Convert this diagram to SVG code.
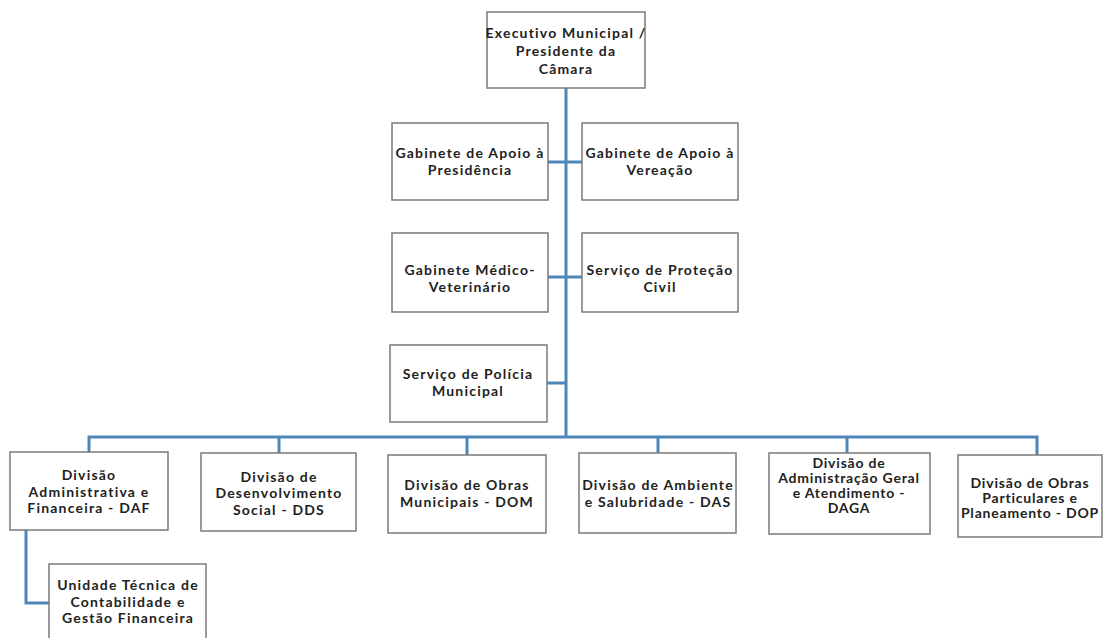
<svg xmlns="http://www.w3.org/2000/svg" width="1107" height="638" viewBox="0 0 1107 638">
<style>
.box{fill:#fff;stroke:#7a7a7a;stroke-width:1.5}
.t{font-family:Lato,"Noto Sans",sans-serif;font-weight:700;font-size:14px;letter-spacing:1.2px;fill:#222;text-anchor:middle}
.n{letter-spacing:0.8px}
.c{fill:none;stroke:#4f86b8;stroke-width:3}
</style>
<rect width="1107" height="638" fill="#fff"/>
<g id="connectors">
<path class="c" d="M566 88V437"/>
<path class="c" d="M548 162H582"/>
<path class="c" d="M548 277H582"/>
<path class="c" d="M547 383H566"/>
<path class="c" d="M89 452V437H1037V455"/>
<path class="c" d="M279 437V453"/>
<path class="c" d="M467 437V455"/>
<path class="c" d="M658 437V453"/>
<path class="c" d="M847 437V453"/>
<path class="c" d="M26 530V603H49"/>
</g>
<g id="n_exec"><rect class="box" x="487" y="12" width="158" height="76"/>
<text class="t" x="566" y="38">Executivo Municipal /</text><text class="t" x="566" y="56">Presidente da</text><text class="t" x="566" y="74">Câmara</text></g>
<g id="n_gap"><rect class="box" x="392" y="123" width="156" height="77"/>
<text class="t" x="470" y="158">Gabinete de Apoio à</text><text class="t" x="470" y="175">Presidência</text></g>
<g id="n_gav"><rect class="box" x="582" y="123" width="156" height="77"/>
<text class="t" x="660" y="158">Gabinete de Apoio à</text><text class="t" x="660" y="175">Vereação</text></g>
<g id="n_gmv"><rect class="box" x="392" y="233" width="156" height="79"/>
<text class="t" x="470" y="275">Gabinete Médico-</text><text class="t" x="470" y="292">Veterinário</text></g>
<g id="n_spc"><rect class="box" x="582" y="233" width="156" height="79"/>
<text class="t" x="660" y="275">Serviço de Proteção</text><text class="t" x="660" y="292">Civil</text></g>
<g id="n_spm"><rect class="box" x="390" y="345" width="157" height="77"/>
<text class="t" x="468" y="379">Serviço de Polícia</text><text class="t" x="468" y="396">Municipal</text></g>
<g id="n_daf"><rect class="box" x="10" y="452" width="158" height="78"/>
<text class="t" x="89" y="480">Divisão</text><text class="t" x="89" y="497">Administrativa e</text><text class="t" x="89" y="513">Financeira - DAF</text></g>
<g id="n_dds"><rect class="box" x="201" y="453" width="155" height="78"/>
<text class="t" x="279" y="482">Divisão de</text><text class="t" x="279" y="498">Desenvolvimento</text><text class="t" x="279" y="515">Social - DDS</text></g>
<g id="n_dom"><rect class="box" x="388" y="455" width="158" height="78"/>
<text class="t" x="467" y="490">Divisão de Obras</text><text class="t" x="467" y="507">Municipais - DOM</text></g>
<g id="n_das"><rect class="box" x="579" y="453" width="157" height="80"/>
<text class="t" x="658" y="490">Divisão de Ambiente</text><text class="t" x="658" y="507">e Salubridade - DAS</text></g>
<g id="n_daga"><rect class="box" x="769" y="453" width="161" height="81"/>
<text class="t n" x="849" y="468">Divisão de</text><text class="t n" x="849" y="483">Administração Geral</text><text class="t n" x="849" y="498">e Atendimento -</text><text class="t n" x="849" y="513">DAGA</text></g>
<g id="n_dop"><rect class="box" x="958" y="455" width="144" height="82"/>
<text class="t n" x="1030" y="488">Divisão de Obras</text><text class="t n" x="1030" y="503">Particulares e</text><text class="t n" x="1030" y="518">Planeamento - DOP</text></g>
<g id="n_utc"><rect class="box" x="49" y="564" width="157" height="80"/>
<text class="t" x="128" y="590">Unidade Técnica de</text><text class="t" x="128" y="607">Contabilidade e</text><text class="t" x="128" y="623">Gestão Financeira</text></g>
</svg>
